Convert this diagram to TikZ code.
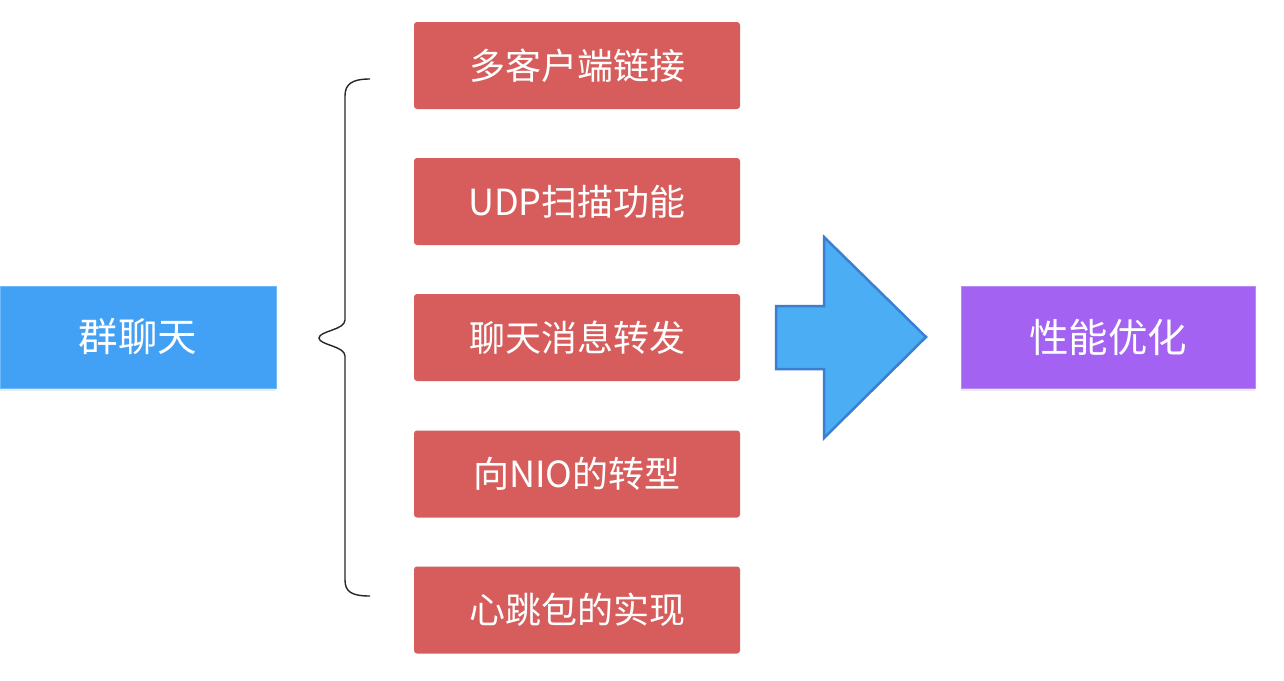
\documentclass[tikz,border=0pt]{standalone}
\usepackage{fontspec}
\setmainfont{Noto Sans CJK SC}
\usetikzlibrary{shadows}
\definecolor{leftblue}{HTML}{42A0F5}
\definecolor{leftborder}{HTML}{6CB8F8}
\definecolor{boxred}{HTML}{D75D5D}
\definecolor{rightpurple}{HTML}{A362F2}
\definecolor{rightborder}{HTML}{B98AF5}
\definecolor{arrowfill}{HTML}{4BAEF5}
\definecolor{arrowedge}{HTML}{3A7FD0}
\tikzset{
  bigbox/.style={rectangle, minimum width=#1, minimum height=102pt, inner sep=0pt,
    text=white, font=\fontsize{39.5}{44}\selectfont,
    drop shadow={shadow xshift=0pt, shadow yshift=-3pt, opacity=0.08, fill=black}},
  itembox/.style={rectangle, rounded corners=3pt, fill=boxred, minimum width=326pt,
    minimum height=87pt, inner sep=0pt, text=white, font=\fontsize{36}{42}\selectfont},
  bracestyle/.style={draw=black!85, line width=1.4pt},
}
\begin{document}
\begin{tikzpicture}[x=1pt,y=-1pt]
\useasboundingbox (0,0) rectangle (1284,680);
\fill[white] (0,0) rectangle (1284,680);

\node[bigbox=276pt, fill=leftblue, draw=leftborder, line width=1pt] (qlt) at (138,337) {群聊天};

\node[itembox] (b1) at (577,65.5) {多客户端链接};
\node[itembox] (b2) at (577,201.5) {UDP扫描功能};
\node[itembox] (b3) at (577,337.5) {聊天消息转发};
\node[itembox] (b4) at (577,474) {向NIO的转型};
\node[itembox] (b5) at (577,610) {心跳包的实现};

% brace
\draw[bracestyle] (370,79) .. controls (352,79) and (345,84) .. (345,96)
  -- (345,320) .. controls (345,330) and (319,331) .. (319,338)
  .. controls (319,345) and (345,346) .. (345,356)
  -- (345,580) .. controls (345,592) and (352,596) .. (370,596);

% big arrow
\draw[fill=arrowfill, draw=arrowedge, line width=2.5pt, line join=miter]
  (776,306) -- (824,306) -- (824,237) -- (926,337) -- (824,438) -- (824,369) -- (776,369) -- cycle;

\node[bigbox=294pt, fill=rightpurple, draw=rightborder, line width=1pt] (perf) at (1108,337) {性能优化};
\end{tikzpicture}
\end{document}
